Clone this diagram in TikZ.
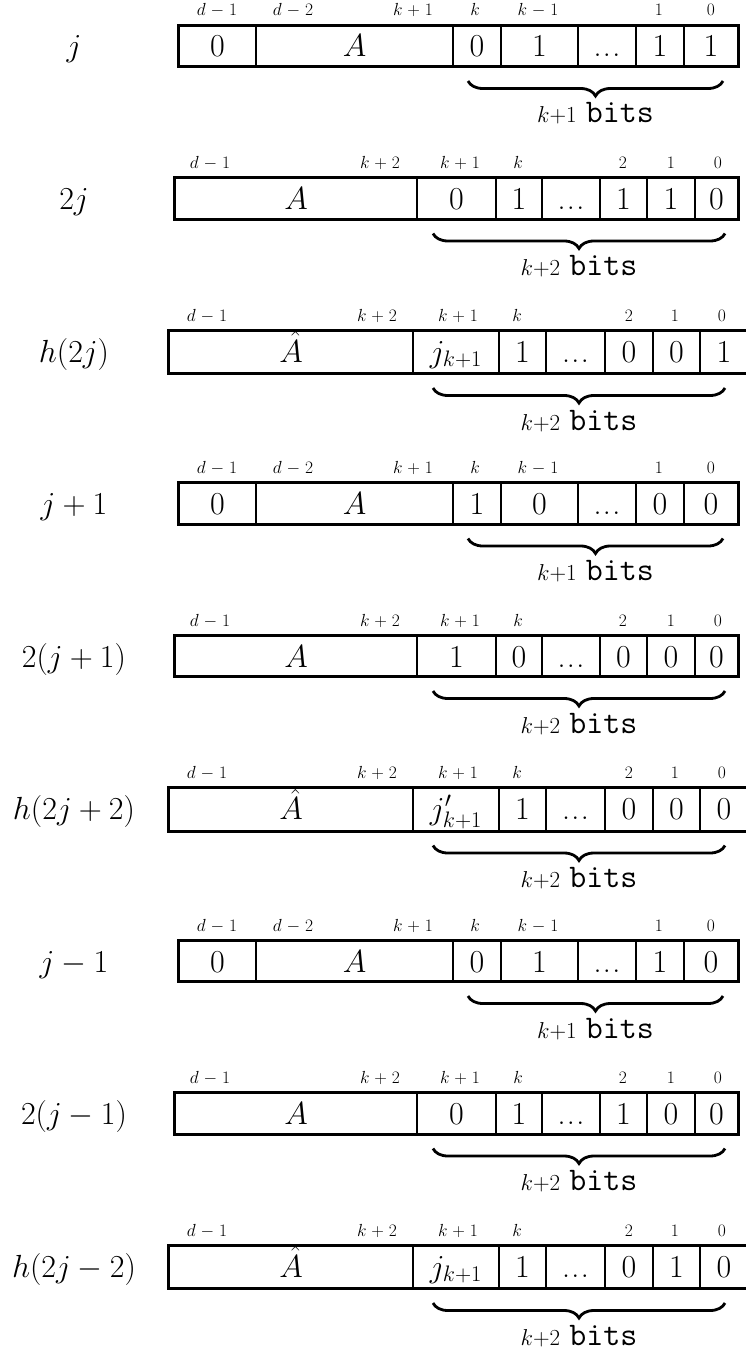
\RequirePackage{fix-cm}
\documentclass[tikz,border=0pt]{standalone}
\usetikzlibrary{decorations.pathreplacing}
\newcommand\tdots{.\kern0.04em.\kern0.04em.}
\newcommand\idxfont{\fontsize{17.5}{20}\selectfont\medmuskip=5mu\relax}
\newcommand\bitsfont{\fontsize{33}{36}\selectfont}
\newcommand\kfont{\fontsize{23}{26}\selectfont}
\tikzset{
  cell/.style={draw, line width=1.6pt, inner sep=0pt},
  outerbox/.style={line width=2.6pt},
  celltext/.style={anchor=base, inner sep=0pt, font=\fontsize{32}{36}\selectfont},
  rowlabel/.style={anchor=base, inner sep=0pt, font=\fontsize{32}{36}\selectfont},
  idx/.style={anchor=base, inner sep=0pt, font=\idxfont},
  bitbrace/.style={decorate, decoration={brace, mirror, amplitude=15pt}, line width=2.8pt},
  bitstext/.style={anchor=base, inner sep=0pt, font=\bitsfont},
}
\newcommand\bitrow[9]{%
  \foreach \xa/\xb/\cc [count=\ii] in {#4}{%
    \pgfmathsetmacro\ww{\xb-\xa}%
    \node[cell, minimum width=\ww pt, minimum height=#8pt] (#1c\ii) at ({(\xa+\xb)/2},{#2+#8/2}) {};
    \node[celltext] (#1t\ii) at ({(\xa+\xb)/2},{#2+#9}) {\cc};
  }
  \draw[outerbox] (#1c1.north west) rectangle (#1c7.south east);
  \foreach \xx/\ll [count=\ii] in {#5}{%
    \node[idx] (#1i\ii) at (\xx,{#2-10}) {\ll};
  }
  \node[rowlabel] (#1lab) at (74,{#2+#9}) {#3};
  \foreach \ba/\bb in {#6}{%
    \coordinate (#1bl) at (\ba,{#2+#8+15});
    \coordinate (#1br) at (\bb,{#2+#8+15});
    \draw[bitbrace] (#1bl) -- (#1br);
    \node[bitstext] (#1bits) at ({(\ba+\bb)/2},{#2+#8+57}) {{\kfont #7}\hspace{9pt}\texttt{bits}};
  }
}
\begin{document}
\begin{tikzpicture}[x=1pt, y=-1pt]
\useasboundingbox (0,0) rectangle (746,1351);
\clip (0,0) rectangle (746,1351);
% j
\bitrow{ra}{26}{$j$}{179/256/$0$, 256/453/$A$, 453/501/$0$, 501/578/$1$, 578/636/\tdots, 636/684/$1$, 684/738/$1$}{217/$d-1$, 293/$d-2$, 413/$k+1$, 475/$k$, 538/$k-1$, 659/$1$, 711/$0$}{468/723}{$k{+}1$}{40}{31}
% 2j
\bitrow{rb}{178.5}{$2j$}{175/417/$A$, 417/496/$0$, 496/542/$1$, 542/600/\tdots, 600/647/$1$, 647/695/$1$, 695/738/$0$}{210/$d-1$, 380/$k+2$, 460/$k+1$, 518/$k$, 623/$2$, 671/$1$, 718/$0$}{433/725}{$k{+}2$}{40}{31}
% h(2j)
\bitrow{rc}{331}{$h(2j)$}{169/413/$\hat{A}$, 413/499/$j_{k+1}$, 499/546/$1$, 546/605/\tdots, 605/653/$0$, 653/700/$0$, 700/748/$1$}{207/$d-1$, 377/$k+2$, 458/$k+1$, 517/$k$, 629/$2$, 675/$1$, 722/$0$}{433/725}{$k{+}2$}{42}{31}
% j+1
\bitrow{rd}{483.5}{$j+1$}{179/256/$0$, 256/453/$A$, 453/501/$1$, 501/578/$0$, 578/636/\tdots, 636/684/$0$, 684/738/$0$}{217/$d-1$, 293/$d-2$, 413/$k+1$, 475/$k$, 538/$k-1$, 659/$1$, 711/$0$}{468/723}{$k{+}1$}{40}{31}
% 2(j+1)
\bitrow{re}{636}{$2(j+1)$}{175/417/$A$, 417/496/$1$, 496/542/$0$, 542/600/\tdots, 600/647/$0$, 647/695/$0$, 695/738/$0$}{210/$d-1$, 380/$k+2$, 460/$k+1$, 518/$k$, 623/$2$, 671/$1$, 718/$0$}{433/725}{$k{+}2$}{40}{31}
% h(2j+2)
\bitrow{rf}{788.5}{$h(2j+2)$}{169/413/$\hat{A}$, 413/499/$j'_{k+1}$, 499/546/$1$, 546/605/\tdots, 605/653/$0$, 653/700/$0$, 700/748/$0$}{207/$d-1$, 377/$k+2$, 458/$k+1$, 517/$k$, 629/$2$, 675/$1$, 722/$0$}{433/725}{$k{+}2$}{42}{31}
% j-1
\bitrow{rg}{941}{$j-1$}{179/256/$0$, 256/453/$A$, 453/501/$0$, 501/578/$1$, 578/636/\tdots, 636/684/$1$, 684/738/$0$}{217/$d-1$, 293/$d-2$, 413/$k+1$, 475/$k$, 538/$k-1$, 659/$1$, 711/$0$}{468/723}{$k{+}1$}{40}{31}
% 2(j-1)
\bitrow{rh}{1093.5}{$2(j-1)$}{175/417/$A$, 417/496/$0$, 496/542/$1$, 542/600/\tdots, 600/647/$1$, 647/695/$0$, 695/738/$0$}{210/$d-1$, 380/$k+2$, 460/$k+1$, 518/$k$, 623/$2$, 671/$1$, 718/$0$}{433/725}{$k{+}2$}{40}{31}
% h(2j-2)
\bitrow{ri}{1246}{$h(2j-2)$}{169/413/$\hat{A}$, 413/499/$j_{k+1}$, 499/546/$1$, 546/605/\tdots, 605/653/$0$, 653/700/$1$, 700/748/$0$}{207/$d-1$, 377/$k+2$, 458/$k+1$, 517/$k$, 629/$2$, 675/$1$, 722/$0$}{433/725}{$k{+}2$}{42}{31}
\end{tikzpicture}
\end{document}
